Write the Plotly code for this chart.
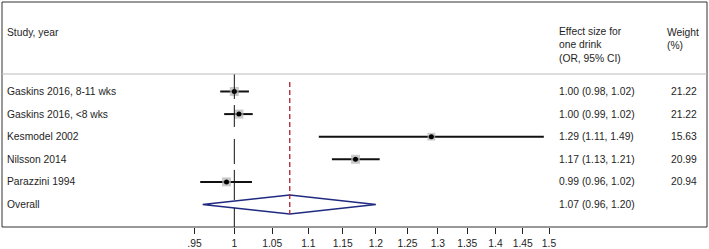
import math
import plotly.graph_objects as go

# ---------------- data ----------------
studies = ["Gaskins 2016, 8-11 wks", "Gaskins 2016, <8 wks", "Kesmodel 2002",
           "Nilsson 2014", "Parazzini 1994"]
es = [1.00, 1.006, 1.289, 1.169, 0.990]
lo = [0.982, 0.987, 1.115, 1.134, 0.957]
hi = [1.019, 1.024, 1.490, 1.206, 1.023]
es_text = ["1.00 (0.98, 1.02)", "1.00 (0.99, 1.02)", "1.29 (1.11, 1.49)",
           "1.17 (1.13, 1.21)", "0.99 (0.96, 1.02)"]
weights = [21.22, 21.22, 15.63, 20.99, 20.94]
weight_text = ["21.22", "21.22", "15.63", "20.99", "20.94"]
overall_label = "Overall"
overall_es = 1.074
overall_lo = 0.960
overall_hi = 1.200
overall_text = "1.07 (0.96, 1.20)"
tick_vals = [0.95, 1, 1.05, 1.1, 1.15, 1.2, 1.25, 1.3, 1.35, 1.4, 1.45, 1.5]
tick_text = [".95", "1", "1.05", "1.1", "1.15", "1.2", "1.25", "1.3", "1.35",
             "1.4", "1.45", "1.5"]

# ---------------- style ----------------
FONT = "Liberation Sans, Arial, sans-serif"
FS = 10.3
TXT = "#1e1e1e"
rows = list(range(len(studies)))
overall_row = len(studies)

fig = go.Figure()

# null line at 1 (drawn in pieces, as in the original rendering)
null_pieces = [(-0.774, 0.33), (0.6, 1.57), (2.1, 3.21), (3.47, 4.8), (5.15, 6.0)]
for a, b in null_pieces:
    fig.add_shape(type="line", xref="x", yref="y", x0=1, x1=1, y0=a, y1=b,
                  line=dict(color="#111111", width=1))

# overall dashed red line
fig.add_shape(type="line", xref="x", yref="y", x0=overall_es, x1=overall_es,
              y0=-0.42, y1=overall_row + 0.42,
              line=dict(color="#b8323f", width=1.4, dash="5px,3px"))

# CI lines
cx, cy = [], []
for i in rows:
    cx += [lo[i], hi[i], None]
    cy += [i, i, None]
fig.add_trace(go.Scatter(x=cx, y=cy, mode="lines",
                         line=dict(color="#111111", width=2), hoverinfo="skip"))

# weight boxes
wmax = max(weights)
fig.add_trace(go.Scatter(x=es, y=rows, mode="markers",
                         marker=dict(symbol="square", color="#b4b4b4",
                                     size=[9 * math.sqrt(w / wmax) for w in weights],
                                     line=dict(width=0)),
                         hoverinfo="skip"))
# point estimates
fig.add_trace(go.Scatter(x=es, y=rows, mode="markers",
                         marker=dict(symbol="circle", color="#000000", size=5),
                         hoverinfo="skip"))

# overall diamond
fig.add_trace(go.Scatter(
    x=[overall_lo, overall_es, overall_hi, overall_es, overall_lo],
    y=[overall_row, overall_row - 0.42, overall_row, overall_row + 0.42, overall_row],
    mode="lines", line=dict(color="#1f2a80", width=1.5), hoverinfo="skip"))

# box border and header separator
fig.add_shape(type="rect", xref="paper", yref="paper", x0=0, x1=1, y0=0, y1=1,
              line=dict(color="#333333", width=1))
fig.add_shape(type="line", xref="paper", yref="y", x0=0, x1=1, y0=-0.774, y1=-0.774,
              line=dict(color="#bbbbbb", width=1))

# text columns
def ann(x, y, text, align="left", yanchor="middle"):
    fig.add_annotation(x=x, y=y, xref="paper", yref="y", text=text, showarrow=False,
                       xanchor=align, yanchor=yanchor, align=align,
                       font=dict(family=FONT, size=FS, color=TXT))

ann(0.0045, -2.63, "Study, year")
ann(0.7875, -2.06, "Effect size for<br>one drink<br>(OR, 95% CI)")
ann(0.9405, -2.34, "Weight<br>(%)")
for i in rows:
    ann(0.0045, i, studies[i])
    ann(0.7875, i, es_text[i])
    ann(0.9455, i, weight_text[i])
ann(0.0045, overall_row, overall_label)
ann(0.7875, overall_row, overall_text)

fig.update_xaxes(type="log", range=[-0.1300, 0.2645], tickvals=tick_vals,
                 ticktext=tick_text, ticks="outside", ticklen=6, tickwidth=1,
                 tickcolor="#222222", showgrid=False, zeroline=False, showline=False,
                 tickfont=dict(family=FONT, size=FS, color=TXT), ticklabelstandoff=1,
                 automargin=False)
fig.update_yaxes(range=[5.996, -3.96], showticklabels=False, showgrid=False,
                 zeroline=False, showline=False, ticks="", automargin=False)
fig.update_layout(width=709, height=249, margin=dict(l=2, r=2, t=2, b=22),
                  paper_bgcolor="white", plot_bgcolor="white", showlegend=False)

fig.write_html("out.html", config={"displayModeBar": False},
               post_script="document.body.style.margin='0';document.body.style.overflow='hidden';")
